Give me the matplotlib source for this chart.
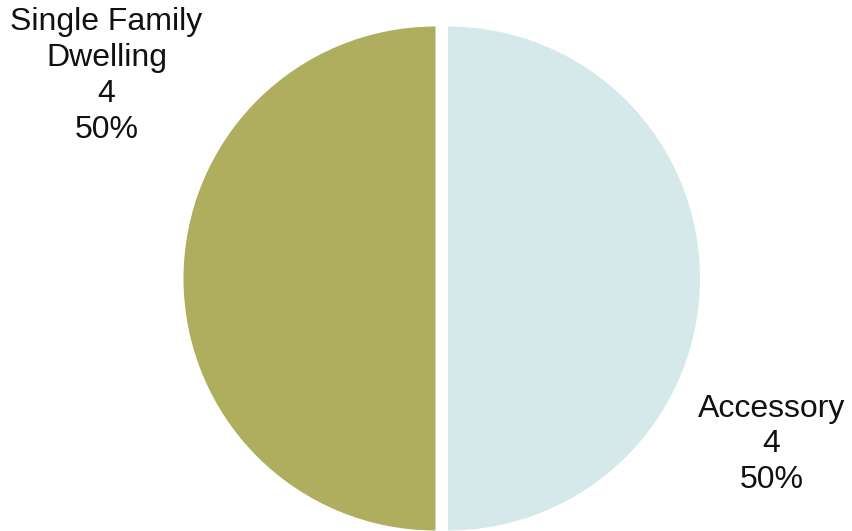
import matplotlib.pyplot as plt

plt.rcParams['font.family'] = ['Liberation Sans', 'DejaVu Sans']

# --- data ---
categories = ['Single Family\nDwelling', 'Accessory']
counts = [4, 4]
colors = ['#AFAE5E', '#D5E9EA']
label_pos = [(106.5, 455), (771.5, 86.5)]   # label centres in pixel coords (y from bottom)

total = sum(counts)

fig = plt.figure(figsize=(8.52, 5.31), dpi=100)
ax = fig.add_axes([0, 0, 1, 1])

# explode is an absolute offset in data units here (pixels)
ax.pie(counts, colors=colors, startangle=90, counterclock=True,
       explode=[6.25, 6.25], radius=252, center=(441.75, 252.5),
       wedgeprops=dict(linewidth=0), frame=True)
ax.set_xlim(0, 852)
ax.set_ylim(0, 531)
ax.set_aspect('equal')
ax.axis('off')

for name, c, (x, y) in zip(categories, counts, label_pos):
    ax.text(x, y, f"{name}\n{c}\n{c / total * 100:.0f}%", ha='center', va='center',
            fontsize=23, linespacing=1.26, color='#111111')

fig.savefig('out.png', dpi=100)
